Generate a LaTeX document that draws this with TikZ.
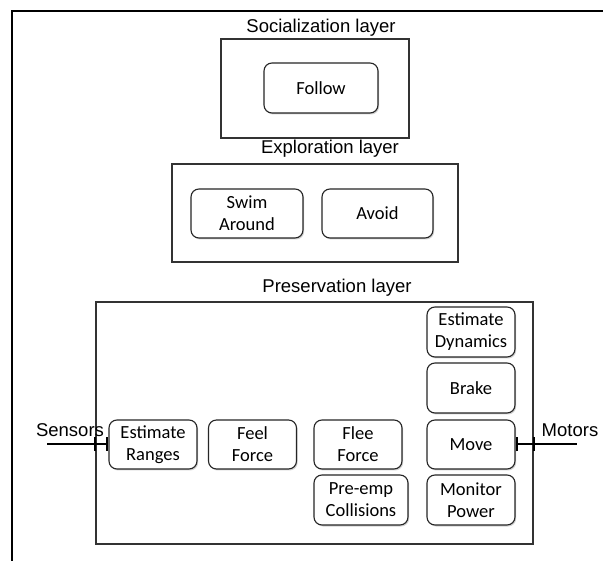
\documentclass[tikz,border=0pt]{standalone}
\usepackage{fontspec}
\setmainfont{Carlito}
\newfontfamily\arialfont{Liberation Sans}
\usetikzlibrary{shadows,arrows.meta}

\tikzset{
  behav/.style={draw=black!85, rounded corners=8pt, line width=1.1pt, fill=white,
    align=center, minimum width=88pt, minimum height=49pt, inner sep=1pt,
    font=\fontsize{18.5}{22}\selectfont,
    drop shadow={shadow xshift=1.2pt, shadow yshift=-1.5pt, opacity=0.35}},
  layer/.style={draw=black!80, line width=1.1pt, fill=white,
    drop shadow={shadow xshift=1pt, shadow yshift=-1.2pt, opacity=0.3}},
  layername/.style={font=\arialfont\fontsize{18.5}{22}\selectfont},
  sig/.style={line width=2pt, black},
}

\begin{document}
\begin{tikzpicture}[x=1pt, y=-1pt]
  \useasboundingbox (0,0) rectangle (603,561);
  % page frame (cropped)
  \draw [line width=1.4pt] (603,11) -- (12,11) -- (12,561);

  % layers
  \node[layer, minimum width=188pt, minimum height=99pt] (social) at (315,88.5) {};
  \node[layer, minimum width=286pt, minimum height=98pt] (explore) at (315,213) {};
  \node[layer, minimum width=437pt, minimum height=242pt] (pres) at (314.5,423) {};
  \path (321,28)  node[layername](sociallbl) {Socialization layer}
        (330,149) node[layername](explorelbl) {Exploration layer}
        (337,288) node[layername](preslbl) {Preservation layer};

  % socialization
  \path (321,88) node[behav, minimum width=114pt, minimum height=50pt](fol) {Follow};

  % exploration
  \path (247,213.5) node[behav, minimum width=112pt](swim) {Swim\\Around}
        ++(130.5,0) node[behav, minimum width=111pt](avoid) {Avoid};

  % preservation
  \path (153,444.5) node[behav](er) {Estimate\\Ranges}
        ++(99.5,0)  node[behav](ff) {Feel\\Force}
        ++(105.5,0) node[behav](flee) {Flee\\Force}
        ++(3,55.5)  node[behav, minimum width=94pt, minimum height=50pt](pre) {Pre-emp\\Collisions}
        ++(110,0)   node[behav, minimum height=50pt](mp) {Monitor\\Power}
        ++(0,-55.5) node[behav](mv) {Move}
        ++(0,-56.5) node[behav, minimum height=50pt](br) {Brake}
        ++(0,-56)   node[behav, minimum height=50pt](ed) {Estimate\\Dynamics};

  % sensors and motors
  \coordinate (sensin) at (47,444.5);
  \coordinate (motout) at (577,444.5);
  \node[layername] (senslbl) at (70,430) {Sensors};
  \node[layername] (motlbl) at (570,430) {Motors};
  \draw [sig, -{Bar[width=14pt]}] (sensin) -- (er.west);
  \draw [sig] (er.west -| pres.west) ++(0,-7) -- ++(0,14);
  \draw [sig, {Bar[width=14pt]}-] (mv.east) -- (motout);
  \draw [sig] (mv.east -| pres.east) ++(0,-7) -- ++(0,14);
\end{tikzpicture}
\end{document}
